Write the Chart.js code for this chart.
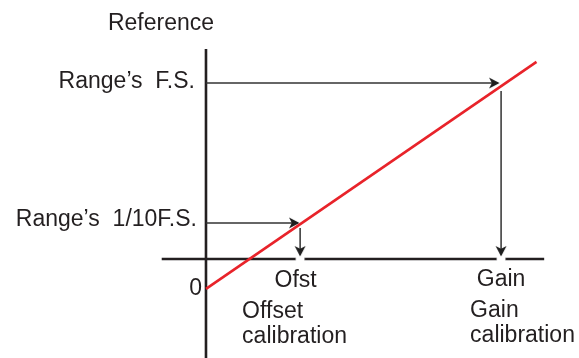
<!doctype html>
<html>
<head>
    <title>Offset and gain calibration</title>
    <script src="https://cdn.jsdelivr.net/npm/chart.js@4.4.1/dist/chart.umd.min.js"></script>
    <style>
        html, body {
            margin: 0px;
            background: #fff;
        }
        #container {
            width: 579px;
            height: 358px;
        }
    </style>
</head>
<body>
    <div id="container"><canvas id="canvas"></canvas></div>
    <script>
        // input axis (x) and reference axis (y), arbitrary units
        var xRange = [-69.8, 126.4];
        var yRange = [-56.3, 147.2];

        var refLabels = ["Range\u2019s  F.S.", "Range\u2019s  1/10F.S."];
        var refLevels = [100, 20.5];
        var hitX = [99.3, 31.5];      // where the horizontal arrows stop

        var calLabels = ["Ofst", "Gain"];
        var calNames = [["Offset", "calibration"], ["Gain", "calibration"]];
        var calX = [31.9, 100];
        var dropTop = [17.6, 95.5];   // where the vertical arrows start
        var dropEnd = 1.7;

        var responseX = [0, 112];
        var responseY = [-17, 112];

        var inputAxisX = [-15, 114.6];
        var refAxisTop = 119.3;

        var ink = '#231f20';
        var arrowInk = '#333333';
        var red = '#e8232a';
        var font = '23px "Liberation Sans", Arial, sans-serif';

        // arrow head with its tip in the middle of the image
        function makeArrow(){
            var c = document.createElement('canvas');
            c.width = 24;
            c.height = 24;
            var g = c.getContext('2d');
            g.fillStyle = '#fff';
            g.beginPath();
            g.arc(15, 12, 4.5, 0, Math.PI * 2);
            g.fill();
            g.fillStyle = '#1e1e1e';
            g.beginPath();
            g.moveTo(12.5, 12);
            g.lineTo(2, 6.5);
            g.lineTo(4.8, 12);
            g.lineTo(2, 17.5);
            g.closePath();
            g.fill();
            return c;
        }
        var arrowHead = makeArrow();

        var datasets = [];
        datasets.push({
            data: [{x: responseX[0], y: responseY[0]}, {x: responseX[1], y: responseY[1]}],
            borderColor: red,
            borderWidth: 2.6,
            pointRadius: 0
        });
        for(var i = 0; i < refLevels.length; ++i){
            datasets.push({
                data: [{x: 0, y: refLevels[i]}, {x: hitX[i], y: refLevels[i]}],
                borderColor: arrowInk,
                borderWidth: 1.5,
                pointRadius: [0, 6],
                pointStyle: arrowHead,
                pointRotation: 0
            });
        }
        for(var i = 0; i < calX.length; ++i){
            datasets.push({
                data: [{x: calX[i], y: dropTop[i]}, {x: calX[i], y: dropEnd}],
                borderColor: arrowInk,
                borderWidth: 1.5,
                pointRadius: [0, 6],
                pointStyle: arrowHead,
                pointRotation: 90
            });
        }
        // axes last so the arrow halos cut them
        datasets.push({
            data: [{x: 0, y: refAxisTop}, {x: 0, y: yRange[0]}],
            borderColor: ink,
            borderWidth: 2.6,
            pointRadius: 0
        });
        datasets.push({
            data: [{x: inputAxisX[0], y: 0}, {x: inputAxisX[1], y: 0}],
            borderColor: ink,
            borderWidth: 2.6,
            pointRadius: 0
        });

        var labelPlugin = {
            id: 'labels',
            afterDraw: function(chart){
                var ctx = chart.ctx;
                var xs = chart.scales.x;
                var ys = chart.scales.y;
                var x0 = xs.getPixelForValue(0);
                var y0 = ys.getPixelForValue(0);
                ctx.save();
                ctx.font = font;
                ctx.fillStyle = ink;
                ctx.textBaseline = 'alphabetic';

                ctx.textAlign = 'center';
                ctx.fillText('Reference', x0 - 45, ys.getPixelForValue(refAxisTop) - 19);

                ctx.textAlign = 'right';
                ctx.fillText(refLabels[0], x0 - 11, ys.getPixelForValue(refLevels[0]) + 5);
                ctx.fillText(refLabels[1], x0 - 9, ys.getPixelForValue(refLevels[1]) + 3);
                ctx.fillText('0', x0 - 4, ys.getPixelForValue(responseY[0]) + 6);

                ctx.textAlign = 'center';
                ctx.fillText(calLabels[0], xs.getPixelForValue(calX[0]) - 4.5, y0 + 28);
                ctx.fillText(calLabels[1], xs.getPixelForValue(calX[1]), y0 + 27);

                ctx.textAlign = 'left';
                var offs = [-58, -31];
                for(var i = 0; i < calNames.length; ++i){
                    var lx = xs.getPixelForValue(calX[i]) + offs[i];
                    ctx.fillText(calNames[i][0], lx, y0 + 59 - i);
                    ctx.fillText(calNames[i][1], lx, y0 + 84 - i);
                }
                ctx.restore();
            }
        };

        window.onload = function(){
            var ctx = document.getElementById('canvas').getContext('2d');
            window.myChart = new Chart(ctx, {
                type: 'scatter',
                data: {datasets: datasets},
                options: {
                    responsive: true,
                    maintainAspectRatio: false,
                    animation: false,
                    events: [],
                    showLine: true,
                    layout: {padding: 0, autoPadding: false},
                    elements: {line: {tension: 0, borderCapStyle: 'butt'}},
                    plugins: {
                        legend: {display: false},
                        title: {display: false},
                        tooltip: {enabled: false}
                    },
                    scales: {
                        x: {type: 'linear', display: false, min: xRange[0], max: xRange[1]},
                        y: {type: 'linear', display: false, min: yRange[0], max: yRange[1]}
                    }
                },
                plugins: [labelPlugin]
            });
        };
    </script>
</body>
</html>
